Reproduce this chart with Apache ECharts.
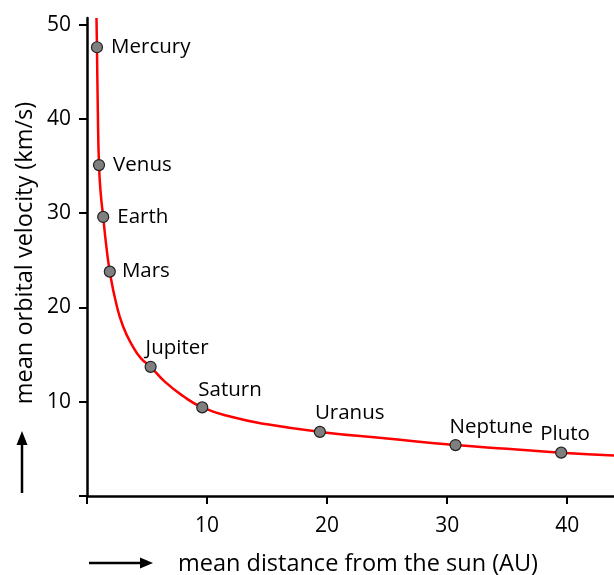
<!DOCTYPE html>
<html>
<head>
<meta charset="utf-8">
<script src="https://cdn.jsdelivr.net/npm/echarts@6/dist/echarts.min.js"></script>
<style>html,body{margin:0;padding:0;background:#fff}#c{width:614px;height:575px}</style>
</head>
<body>
<div id="c"></div>
<script>
// Planets
var planetNames = ['Mercury','Venus','Earth','Mars','Jupiter','Saturn','Uranus','Neptune','Pluto'];
var planetDist  = [0.83, 1.0, 1.35, 1.9, 5.3, 9.6, 19.4, 30.7, 39.5];
var planetVel   = [47.6, 35.1, 29.6, 23.8, 13.7, 9.4, 6.8, 5.4, 4.6];
// Red curve points
var curveDist = [0.79, 0.83, 0.9, 1.0, 1.15, 1.35, 1.6, 1.9, 2.4, 3.0, 3.8, 4.5, 5.3, 6.5, 8.0, 9.6, 12, 15, 19.4, 25, 30.7, 35, 39.5, 43.9];
var curveVel  = [50.7, 47.6, 41, 35.1, 32, 29.6, 26.6, 23.8, 20.6, 18.0, 15.9, 14.6, 13.7, 12.1, 10.6, 9.4, 8.4, 7.6, 6.8, 6.1, 5.4, 5.0, 4.6, 4.3];
// Axis ticks
var xTicks = [0, 10, 20, 30, 40];
var xLabels = [10, 20, 30, 40];
var yTicks = [0, 10, 20, 30, 40, 50];
var yLabels = [10, 20, 30, 40, 50];

var FONT = 'Open Sans';
var labelStyles = {
  Mercury: {position: 'right', distance: 8},
  Venus:   {position: 'right', distance: 8},
  Earth:   {position: 'right', distance: 8},
  Mars:    {position: 'right', distance: 6},
  Jupiter: {position: 'top', align: 'left', offset: [-5, 3]},
  Saturn:  {position: 'top', align: 'left', offset: [-4, 4]},
  Uranus:  {position: 'top', align: 'left', offset: [-5, 3]},
  Neptune: {position: 'top', align: 'left', offset: [-6, 4]},
  Pluto:   {position: 'top', align: 'left', offset: [-21, 3]}
};

var curveData = curveDist.map(function (d, i) { return [d, curveVel[i]]; });
var planetData = planetNames.map(function (n, i) {
  var ls = labelStyles[n];
  return {
    name: n,
    value: [planetDist[i], planetVel[i]],
    label: Object.assign({show: true, formatter: n, color: '#000', fontSize: 20.5, fontFamily: FONT}, ls)
  };
});

var chart = echarts.init(document.getElementById('c'), null, {renderer: 'canvas'});
chart.setOption({
  animation: false,
  textStyle: {fontFamily: FONT},
  grid: {left: 87, right: 0, top: 18, bottom: 79, containLabel: false},
  xAxis: {
    type: 'value', min: 0, max: 43.9,
    splitLine: {show: false},
    axisLine: {lineStyle: {color: '#000', width: 2.5}},
    axisTick: {show: true, length: 8, lineStyle: {color: '#000', width: 2}, customValues: xTicks},
    axisLabel: {color: '#000', fontSize: 21, fontFamily: FONT, margin: 20, customValues: xLabels}
  },
  yAxis: {
    type: 'value', min: 0, max: 50.7,
    splitLine: {show: false},
    axisLine: {lineStyle: {color: '#000', width: 2.5}},
    axisTick: {show: true, length: 8, lineStyle: {color: '#000', width: 2}, customValues: yTicks},
    axisLabel: {color: '#000', fontSize: 21, fontFamily: FONT, margin: 16, customValues: yLabels}
  },
  series: [
    {
      type: 'line', data: curveData, smooth: 0.5,
      showSymbol: false, symbol: 'none',
      lineStyle: {color: '#ff0000', width: 2.5}, z: 2
    },
    {
      type: 'scatter', data: planetData, symbol: 'circle', symbolSize: 11,
      itemStyle: {color: '#7f7f7f', borderColor: '#222', borderWidth: 1.2, opacity: 1},
      label: {color: '#000', fontSize: 20.5, fontFamily: FONT},
      z: 3
    }
  ],
  graphic: [
    {type: 'text', x: 358, y: 564, style: {text: 'mean distance from the sun (AU)', fontSize: 23.5, fontFamily: FONT, fill: '#000', align: 'center', verticalAlign: 'middle'}},
    {type: 'text', x: 25, y: 253, rotation: Math.PI / 2, style: {text: 'mean orbital velocity (km/s)', fontSize: 23.5, fontFamily: FONT, fill: '#000', align: 'center', verticalAlign: 'middle'}},
    {type: 'line', shape: {x1: 89, y1: 563, x2: 142, y2: 563}, style: {stroke: '#000', lineWidth: 2.5}},
    {type: 'polygon', shape: {points: [[153, 563], [140, 557.5], [140, 568.5]]}, style: {fill: '#000'}},
    {type: 'line', shape: {x1: 22, y1: 493, x2: 22, y2: 442}, style: {stroke: '#000', lineWidth: 2.5}},
    {type: 'polygon', shape: {points: [[22, 431], [16.5, 445], [27.5, 445]]}, style: {fill: '#000'}}
  ]
});
</script>
</body>
</html>
